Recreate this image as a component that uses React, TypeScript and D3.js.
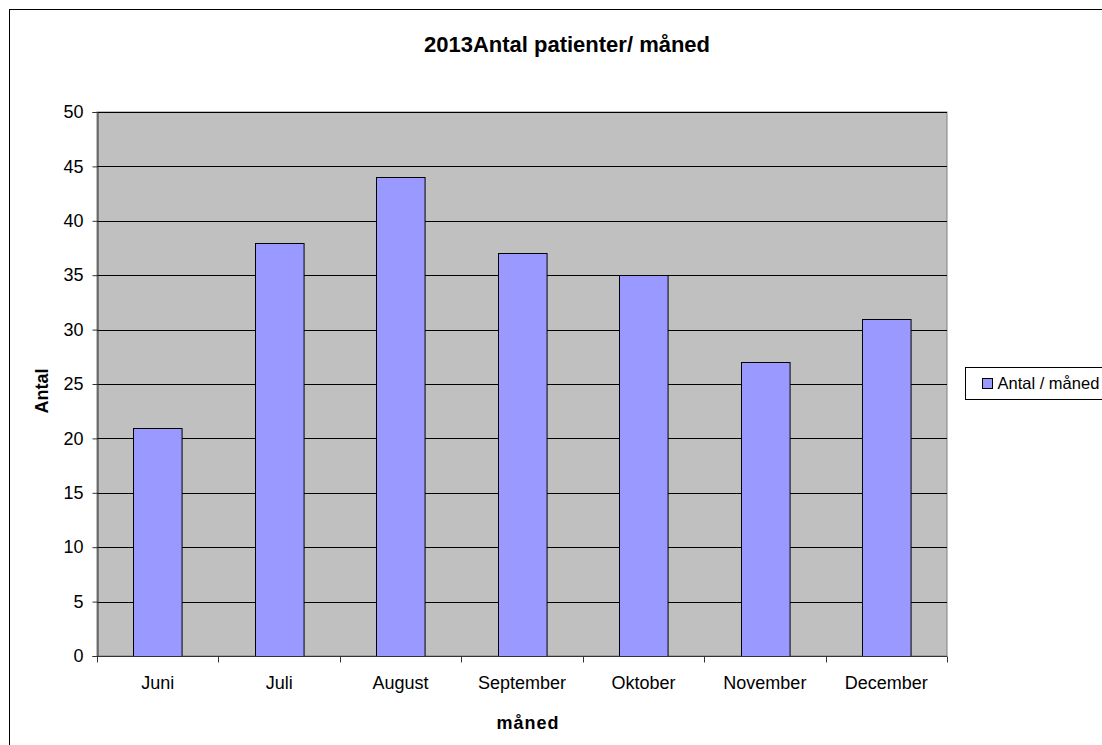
import * as d3 from 'd3';
import { useEffect, useRef } from 'react';

const months = ['Juni', 'Juli', 'August', 'September', 'Oktober', 'November', 'December'];
const patients = [21, 38, 44, 37, 35, 27, 31];
const yTicks = [0, 5, 10, 15, 20, 25, 30, 35, 40, 45, 50];
const seriesName = 'Antal / måned';

const App = () => {
  const ref = useRef<SVGSVGElement>(null);
  const width = 1102;
  const height = 745;

  useEffect(() => {
    const svg = d3.select(ref.current);
    svg.selectAll('*').remove();
    const font = 'Liberation Sans, Arial, sans-serif';
    const margin = { top: 112, left: 97, right: 155, bottom: 89 };
    const plotW = width - margin.left - margin.right;
    const plotH = height - margin.top - margin.bottom;

    // outer chart frame
    svg
      .append('rect')
      .attr('x', 9.5)
      .attr('y', 9.5)
      .attr('width', width + 20)
      .attr('height', height + 20)
      .attr('fill', '#fff')
      .attr('stroke', '#000');

    const x = d3.scaleBand().domain(months).range([0, plotW]).paddingInner(0.6).paddingOuter(0.3);
    const xb = d3.scaleBand().domain(months).range([0, plotW]);
    const y = d3.scaleLinear().domain([0, 50]).range([plotH, 0]);

    const g = svg.append('g').attr('transform', 'translate(' + margin.left + ',' + margin.top + ')');

    g.append('rect')
      .attr('width', plotW)
      .attr('height', plotH)
      .attr('fill', '#c0c0c0')
      .attr('stroke', '#808080');

    g.append('g')
      .selectAll('line')
      .data(yTicks.slice(1))
      .enter()
      .append('line')
      .attr('x1', 0)
      .attr('x2', plotW)
      .attr('y1', (d) => Math.round(y(d)) + 0.5)
      .attr('y2', (d) => Math.round(y(d)) + 0.5)
      .attr('stroke', '#000')
      .attr('stroke-width', 1);

    g.append('g')
      .selectAll('rect')
      .data(patients)
      .enter()
      .append('rect')
      .attr('x', (d, i) => Math.round(x(months[i])!) + 0.5)
      .attr('y', (d) => Math.round(y(d)) + 0.5)
      .attr('width', x.bandwidth())
      .attr('height', (d) => plotH - Math.round(y(d)))
      .attr('fill', '#9999ff')
      .attr('stroke', '#000');

    // y axis
    const yAxis = g
      .append('g')
      .attr('transform', 'translate(0.5,0)')
      .call(d3.axisLeft(y).tickValues(yTicks).tickSize(5).tickPadding(9));
    yAxis.select('.domain').attr('stroke', '#333');
    yAxis.selectAll('line').attr('stroke', '#333');
    yAxis.selectAll('text').attr('font-family', font).attr('font-size', 18).attr('fill', '#000');

    // x axis
    const xAxis = g
      .append('g')
      .attr('transform', 'translate(0,' + (plotH + 0.5) + ')')
      .call(d3.axisBottom(xb).tickSize(0).tickPadding(20));
    xAxis.select('.domain').attr('stroke', '#333').attr('d', 'M0,0H' + plotW);
    xAxis.selectAll('text').attr('font-family', font).attr('font-size', 18).attr('fill', '#000');
    xAxis
      .selectAll('line.sep')
      .data(d3.range(months.length + 1))
      .enter()
      .append('line')
      .attr('class', 'sep')
      .attr('x1', (d) => Math.round(d * xb.step()) + 0.5)
      .attr('x2', (d) => Math.round(d * xb.step()) + 0.5)
      .attr('y1', 0)
      .attr('y2', 6)
      .attr('stroke', '#333');

    // title and axis labels
    svg
      .append('text')
      .attr('x', 567)
      .attr('y', 52)
      .attr('text-anchor', 'middle')
      .attr('font-family', font)
      .attr('font-weight', 'bold')
      .attr('font-size', 22)
      .text('2013Antal patienter/ måned');

    svg
      .append('text')
      .attr('transform', 'translate(48,391) rotate(-90)')
      .attr('text-anchor', 'middle')
      .attr('font-family', font)
      .attr('font-weight', 'bold')
      .attr('font-size', 18)
      .text('Antal');

    svg
      .append('text')
      .attr('x', 528)
      .attr('y', 729)
      .attr('text-anchor', 'middle')
      .attr('font-family', font)
      .attr('font-weight', 'bold')
      .attr('font-size', 18)
      .attr('letter-spacing', 1)
      .text('måned');

    // legend
    const legend = svg.append('g').attr('transform', 'translate(965.5,367.5)');
    legend
      .append('rect')
      .attr('width', 140)
      .attr('height', 32)
      .attr('fill', '#fff')
      .attr('stroke', '#000');
    legend
      .append('rect')
      .attr('x', 17)
      .attr('y', 11)
      .attr('width', 10)
      .attr('height', 10)
      .attr('fill', '#9999ff')
      .attr('stroke', '#000');
    legend
      .append('text')
      .attr('x', 32)
      .attr('y', 21)
      .attr('font-family', font)
      .attr('font-size', 16.5)
      .text(seriesName);
  }, []);

  return (
    <svg
      ref={ref}
      width={width}
      height={height}
      style={{ position: 'absolute', left: 0, top: 0, background: '#fff' }}
    ></svg>
  );
};

export default App;
